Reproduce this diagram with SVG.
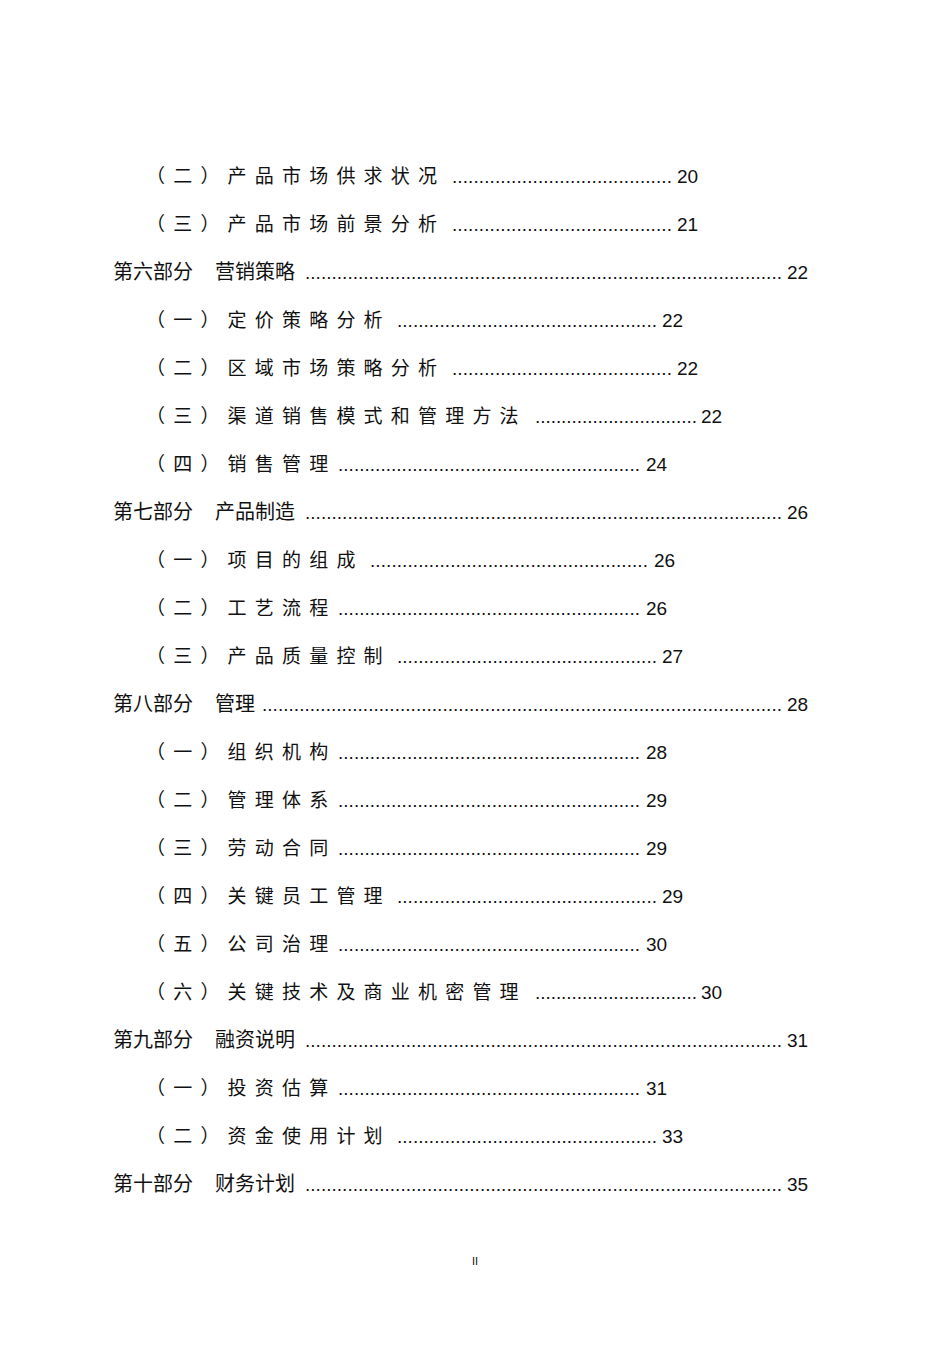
<svg xmlns="http://www.w3.org/2000/svg" width="950" height="1345" viewBox="0 0 950 1345">
<defs>
<style>
text{font-family:"Liberation Sans","Noto Sans CJK SC",sans-serif;fill:#111;font-size:19px}
.s{letter-spacing:8.2px}
.c{font-size:20px}
</style>
</defs>
<rect width="950" height="1345" fill="#fff"/>
<g id="toc">
<g id="e1"><text class="s" x="146" y="183">（二）产品市场供求状况</text><text x="452" y="183" textLength="220" lengthAdjust="spacing">.........................................</text><text x="677" y="183">20</text></g>
<g id="e2"><text class="s" x="146" y="231">（三）产品市场前景分析</text><text x="452" y="231" textLength="220" lengthAdjust="spacing">.........................................</text><text x="677" y="231">21</text></g>
<g id="e3"><text class="c" x="113" y="279">第六部分</text><text class="c" x="215" y="279">营销策略</text><text x="305" y="279" textLength="477" lengthAdjust="spacing">..........................................................................................</text><text x="787" y="279">22</text></g>
<g id="e4"><text class="s" x="146" y="327">（一）定价策略分析</text><text x="397" y="327" textLength="260" lengthAdjust="spacing">.................................................</text><text x="662" y="327">22</text></g>
<g id="e5"><text class="s" x="146" y="375">（二）区域市场策略分析</text><text x="452" y="375" textLength="220" lengthAdjust="spacing">.........................................</text><text x="677" y="375">22</text></g>
<g id="e6"><text class="s" x="146" y="423">（三）渠道销售模式和管理方法</text><text x="535" y="423" textLength="162" lengthAdjust="spacing">...............................</text><text x="701" y="423">22</text></g>
<g id="e7"><text class="s" x="146" y="471">（四）销售管理</text><text x="338" y="471" textLength="302" lengthAdjust="spacing">.........................................................</text><text x="646" y="471">24</text></g>
<g id="e8"><text class="c" x="113" y="519">第七部分</text><text class="c" x="215" y="519">产品制造</text><text x="305" y="519" textLength="477" lengthAdjust="spacing">..........................................................................................</text><text x="787" y="519">26</text></g>
<g id="e9"><text class="s" x="146" y="567">（一）项目的组成</text><text x="370" y="567" textLength="278" lengthAdjust="spacing">....................................................</text><text x="654" y="567">26</text></g>
<g id="e10"><text class="s" x="146" y="615">（二）工艺流程</text><text x="338" y="615" textLength="302" lengthAdjust="spacing">.........................................................</text><text x="646" y="615">26</text></g>
<g id="e11"><text class="s" x="146" y="663">（三）产品质量控制</text><text x="397" y="663" textLength="260" lengthAdjust="spacing">.................................................</text><text x="662" y="663">27</text></g>
<g id="e12"><text class="c" x="113" y="711">第八部分</text><text class="c" x="215" y="711">管理</text><text x="262" y="711" textLength="520" lengthAdjust="spacing">..................................................................................................</text><text x="787" y="711">28</text></g>
<g id="e13"><text class="s" x="146" y="759">（一）组织机构</text><text x="338" y="759" textLength="302" lengthAdjust="spacing">.........................................................</text><text x="646" y="759">28</text></g>
<g id="e14"><text class="s" x="146" y="807">（二）管理体系</text><text x="338" y="807" textLength="302" lengthAdjust="spacing">.........................................................</text><text x="646" y="807">29</text></g>
<g id="e15"><text class="s" x="146" y="855">（三）劳动合同</text><text x="338" y="855" textLength="302" lengthAdjust="spacing">.........................................................</text><text x="646" y="855">29</text></g>
<g id="e16"><text class="s" x="146" y="903">（四）关键员工管理</text><text x="397" y="903" textLength="260" lengthAdjust="spacing">.................................................</text><text x="662" y="903">29</text></g>
<g id="e17"><text class="s" x="146" y="951">（五）公司治理</text><text x="338" y="951" textLength="302" lengthAdjust="spacing">.........................................................</text><text x="646" y="951">30</text></g>
<g id="e18"><text class="s" x="146" y="999">（六）关键技术及商业机密管理</text><text x="535" y="999" textLength="162" lengthAdjust="spacing">...............................</text><text x="701" y="999">30</text></g>
<g id="e19"><text class="c" x="113" y="1047">第九部分</text><text class="c" x="215" y="1047">融资说明</text><text x="305" y="1047" textLength="477" lengthAdjust="spacing">..........................................................................................</text><text x="787" y="1047">31</text></g>
<g id="e20"><text class="s" x="146" y="1095">（一）投资估算</text><text x="338" y="1095" textLength="302" lengthAdjust="spacing">.........................................................</text><text x="646" y="1095">31</text></g>
<g id="e21"><text class="s" x="146" y="1143">（二）资金使用计划</text><text x="397" y="1143" textLength="260" lengthAdjust="spacing">.................................................</text><text x="662" y="1143">33</text></g>
<g id="e22"><text class="c" x="113" y="1191">第十部分</text><text class="c" x="215" y="1191">财务计划</text><text x="305" y="1191" textLength="477" lengthAdjust="spacing">..........................................................................................</text><text x="787" y="1191">35</text></g>
</g>
<g id="connectors"/>
<text x="475" y="1265" text-anchor="middle" style="font-size:11px">II</text>
</svg>
